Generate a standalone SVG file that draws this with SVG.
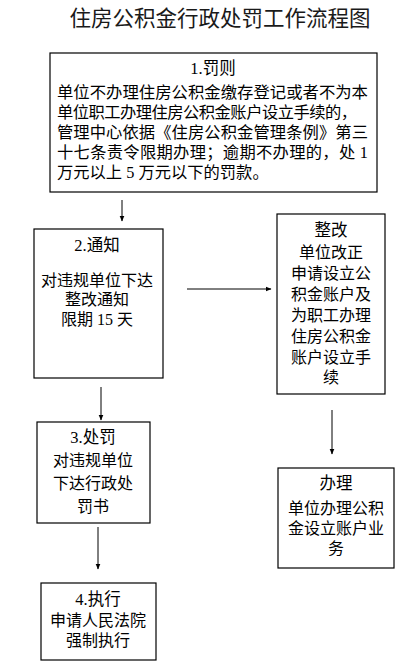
<svg xmlns="http://www.w3.org/2000/svg" width="420" height="664" viewBox="0 0 420 664">
<style>
.box{fill:#fff;stroke:#000;stroke-width:1.2}
text{font-family:"Liberation Serif","Noto Sans CJK SC",serif;font-size:16px;fill:#000}
.c{text-anchor:middle}
.t{font-size:21.5px;fill:#1a1a1a}
.h{font-size:16.5px}
.b{font-size:16.3px}
.edge{stroke:#000;stroke-width:1;fill:none;marker-end:url(#ah)}
</style>
<defs>
<marker id="ah" viewBox="0 0 6 6" refX="5.5" refY="3" markerWidth="6" markerHeight="6" markerUnits="userSpaceOnUse" orient="auto">
<path d="M0,0.5 L6,3 L0,5.5 z" fill="#000"/>
</marker>
</defs>
<text class="t c" x="220" y="26">住房公积金行政处罚工作流程图</text>
<g id="connectors">
<line class="edge" x1="122" y1="200" x2="122" y2="221"/>
<line class="edge" x1="187" y1="289" x2="271" y2="289"/>
<line class="edge" x1="101" y1="387" x2="101" y2="420"/>
<line class="edge" x1="98" y1="527" x2="98" y2="569"/>
<line class="edge" x1="332" y1="410" x2="332" y2="454"/>
</g>
<g id="n1">
<rect class="box" x="50" y="53" width="327" height="139"/>
<text class="c h" x="213" y="74">1.罚则</text>
<text class="b" x="57" y="98" textLength="311" lengthAdjust="spacingAndGlyphs">单位不办理住房公积金缴存登记或者不为本</text>
<text class="b" x="57" y="118" textLength="300">单位职工办理住房公积金账户设立手续的，</text>
<text class="b" x="57" y="138" textLength="311">管理中心依据《住房公积金管理条例》第三</text>
<text class="b" x="57" y="158" textLength="311">十七条责令限期办理；逾期不办理的，处 1</text>
<text class="b" x="57" y="178">万元以上 5 万元以下的罚款。</text>
</g>
<g id="n2">
<rect class="box" x="34" y="229" width="129" height="149"/>
<text class="c h" x="97" y="251">2.通知</text>
<text class="c" x="97" y="286">对违规单位下达</text>
<text class="c" x="97" y="305">整改通知</text>
<text class="c" x="97" y="325">限期 15 天</text>
</g>
<g id="n3">
<rect class="box" x="37" y="422" width="113" height="101"/>
<text class="c h" x="93" y="443">3.处罚</text>
<text class="c" x="93" y="466">对违规单位</text>
<text class="c" x="93" y="489">下达行政处</text>
<text class="c" x="93" y="512">罚书</text>
</g>
<g id="n4">
<rect class="box" x="41" y="583" width="115" height="77"/>
<text class="c h" x="98" y="605">4.执行</text>
<text class="c" x="98" y="626">申请人民法院</text>
<text class="c" x="98" y="646">强制执行</text>
</g>
<g id="n5">
<rect class="box" x="277" y="214" width="108" height="180"/>
<text class="c h" x="331" y="236">整改</text>
<text class="c" x="331" y="258">单位改正</text>
<text class="c" x="331" y="279">申请设立公</text>
<text class="c" x="331" y="300">积金账户及</text>
<text class="c" x="331" y="321">为职工办理</text>
<text class="c" x="331" y="342">住房公积金</text>
<text class="c" x="331" y="363">账户设立手</text>
<text class="c" x="331" y="383">续</text>
</g>
<g id="n6">
<rect class="box" x="278" y="468" width="116" height="100"/>
<text class="c h" x="336" y="489">办理</text>
<text class="c" x="336" y="514">单位办理公积</text>
<text class="c" x="336" y="534">金设立账户业</text>
<text class="c" x="336" y="554">务</text>
</g>
</svg>
